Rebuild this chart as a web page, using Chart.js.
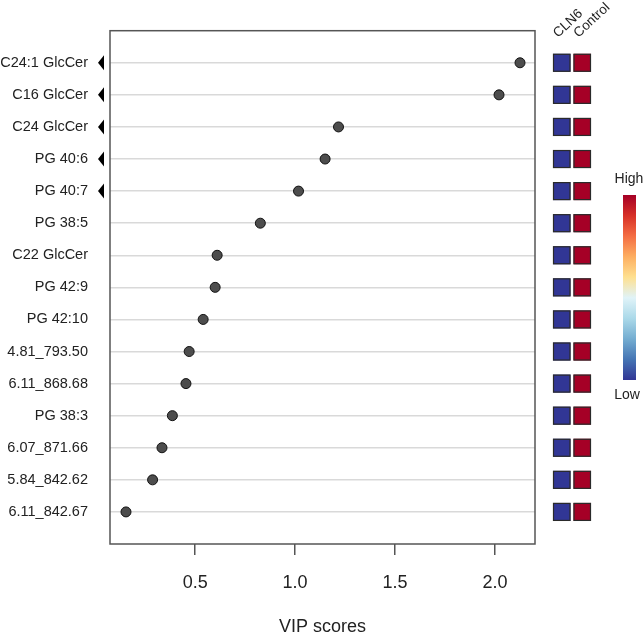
<!DOCTYPE html>
<html>
<head>
<meta charset="utf-8">
<script src="https://cdn.jsdelivr.net/npm/chart.js@4.4.1/dist/chart.umd.min.js"></script>
<style>
  body { margin: 0; background: #fff; }
  #wrap { width: 644px; height: 634px; }
</style>
</head>
<body>
<div id="wrap"><canvas id="grafico1" width="644" height="634"></canvas></div>
<script>
// features, top to bottom
var features = ["C24:1 GlcCer", "C16 GlcCer", "C24 GlcCer", "PG 40:6", "PG 40:7", "PG 38:5",
  "C22 GlcCer", "PG 42:9", "PG 42:10", "4.81_793.50", "6.11_868.68", "PG 38:3",
  "6.07_871.66", "5.84_842.62", "6.11_842.67"];
var vipScores = [2.125, 2.02, 1.217, 1.15, 1.017, 0.826, 0.61, 0.6, 0.54, 0.47, 0.454, 0.386, 0.334, 0.287, 0.154];
// rows with the black marker on the left
var flagged = ["C24:1 GlcCer", "C16 GlcCer", "C24 GlcCer", "PG 40:6", "PG 40:7"];
// heatmap columns (0 = low, 1 = high)
var groups = ["CLN6", "Control"];
var cln6Level = [0, 0, 0, 0, 0, 0, 0, 0, 0, 0, 0, 0, 0, 0, 0];
var controlLevel = [1, 1, 1, 1, 1, 1, 1, 1, 1, 1, 1, 1, 1, 1, 1];
var xTicks = [0.5, 1.0, 1.5, 2.0];

var fnt = "'Liberation Sans', Arial, sans-serif";
// RdYlBu reversed
var paleta = ["#313695", "#4575b4", "#74add1", "#abd9e9", "#e0f3f8", "#fee090", "#fdae61", "#f46d43", "#d73027", "#a50026"];
function colorNivel(v) { return v >= 0.5 ? "#a50026" : "#313695"; }

var puntos = vipScores.map(function (v, i) { return { x: v, y: i + 1 }; });

var extras = {
  id: "extras",
  afterDraw: function (chart) {
    var ctx = chart.ctx, a = chart.chartArea, ys = chart.scales.y;
    ctx.save();
    // box
    ctx.strokeStyle = "#555"; ctx.lineWidth = 1.5;
    ctx.strokeRect(a.left, a.top, a.right - a.left, a.bottom - a.top);
    // flag triangles
    ctx.fillStyle = "#000";
    features.forEach(function (f, i) {
      if (flagged.indexOf(f) < 0) return;
      var y = ys.getPixelForValue(i + 1);
      ctx.beginPath();
      ctx.moveTo(a.left - 12, y);
      ctx.lineTo(a.left - 6, y - 7.5);
      ctx.lineTo(a.left - 6, y + 7.5);
      ctx.closePath(); ctx.fill();
    });
    // heatmap cells
    var colX = [553, 573.5];
    var levels = [cln6Level, controlLevel];
    ctx.strokeStyle = "#2a2a2a"; ctx.lineWidth = 1.2;
    levels.forEach(function (lv, c) {
      lv.forEach(function (v, i) {
        var y = ys.getPixelForValue(i + 1);
        ctx.fillStyle = colorNivel(v);
        ctx.fillRect(colX[c], y - 9, 17.5, 18);
        ctx.strokeRect(colX[c] + 0.5, y - 8.5, 16.5, 17);
      });
    });
    // column labels
    ctx.fillStyle = "#222"; ctx.font = "13.5px " + fnt;
    ctx.textAlign = "left"; ctx.textBaseline = "alphabetic";
    groups.forEach(function (g, c) {
      ctx.save();
      ctx.translate(colX[c] + 5, 38);
      ctx.rotate(-Math.PI * 43 / 180);
      ctx.fillText(g, 0, 0);
      ctx.restore();
    });
    // colour key
    var gx = 623, gy0 = 195, gy1 = 380;
    var grad = ctx.createLinearGradient(0, gy1, 0, gy0);
    paleta.forEach(function (c, k) { grad.addColorStop(k / (paleta.length - 1), c); });
    ctx.fillStyle = grad;
    ctx.fillRect(gx, gy0, 13, gy1 - gy0);
    ctx.fillStyle = "#222"; ctx.font = "14px " + fnt;
    ctx.textAlign = "center"; ctx.textBaseline = "middle";
    ctx.fillText("High", 629, 179);
    ctx.fillText("Low", 627, 395);
    ctx.restore();
  }
};

new Chart(document.getElementById("grafico1").getContext("2d"), {
  type: "scatter",
  data: {
    datasets: [{
      label: "VIP",
      data: puntos,
      backgroundColor: "#4d4d4d",
      borderColor: "#111",
      borderWidth: 1,
      pointRadius: 5,
      pointHoverRadius: 5
    }]
  },
  options: {
    responsive: false,
    animation: false,
    layout: { padding: { top: 30, right: 109, left: 0, bottom: 0 } },
    plugins: { legend: { display: false }, tooltip: { enabled: false } },
    scales: {
      x: {
        type: "linear",
        min: 0.074, max: 2.2,
        afterBuildTicks: function (s) { s.ticks = xTicks.map(function (v) { return { value: v }; }); },
        afterFit: function (s) { s.height = 90; },
        border: { display: false },
        grid: { drawOnChartArea: false, drawTicks: true, tickLength: 11, color: "#555", lineWidth: 1.5 },
        ticks: {
          padding: 17, color: "#222", font: { family: fnt, size: 18 },
          maxRotation: 0,
          callback: function (v) { return v.toFixed(1); }
        },
        title: { display: true, text: "VIP scores", color: "#222", font: { family: fnt, size: 18, lineHeight: 1 }, padding: { top: 0, bottom: -2 } }
      },
      y: {
        type: "linear",
        reverse: true,
        min: 0, max: 16,
        afterBuildTicks: function (s) { s.ticks = features.map(function (f, i) { return { value: i + 1 }; }); },
        afterFit: function (s) { s.width = 110; },
        border: { display: false },
        grid: { drawTicks: false, color: "#d9d9d9", lineWidth: 1.5 },
        ticks: {
          padding: 22, color: "#222", font: { family: fnt, size: 14.5 },
          callback: function (v) { return features[v - 1]; }
        }
      }
    }
  },
  plugins: [extras]
});
</script>
</body>
</html>
